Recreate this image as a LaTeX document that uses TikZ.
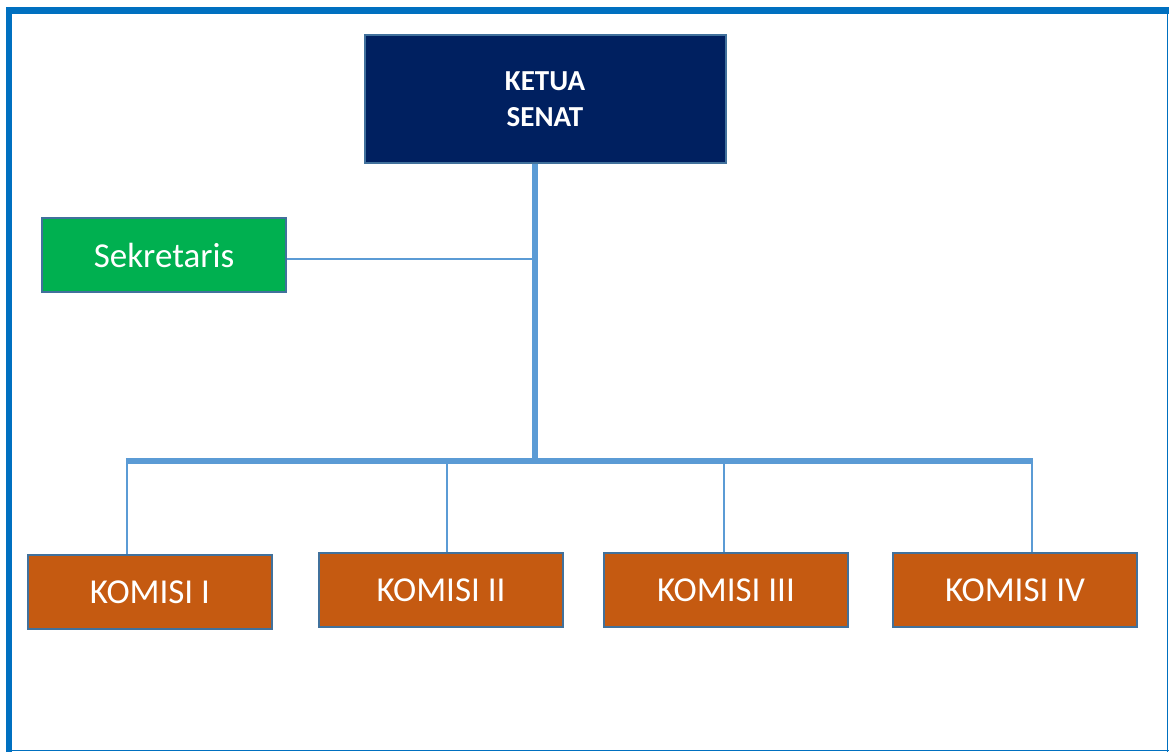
\documentclass[tikz,border=0pt]{standalone}
\usepackage{fontspec}
\setmainfont{Carlito}
\definecolor{navy}{HTML}{002060}
\definecolor{sekgreen}{HTML}{00B050}
\definecolor{komorange}{HTML}{C55A11}
\definecolor{boxborder}{HTML}{41719C}
\definecolor{linkblue}{HTML}{5B9BD5}
\definecolor{frameblue}{HTML}{0070C0}
\begin{document}
\begin{tikzpicture}[x=1pt,y=-1pt,
  orgbox/.style={draw=boxborder,line width=2pt,inner sep=0pt,text=white,align=center},
  komisi/.style={orgbox,fill=komorange,minimum width=244pt,minimum height=74pt,font=\fontsize{35}{40}\selectfont},
  thickline/.style={draw=linkblue,line width=5.5pt},
  thinline/.style={draw=linkblue,line width=2.5pt}]
\useasboundingbox (0,0) rectangle (1169,752);
% frame
\fill[white] (0,0) rectangle (1169,752);
\fill[frameblue] (6,7) rectangle (1169,14);
\fill[frameblue] (6,7) rectangle (12,752);
\draw[frameblue,line width=1.5pt] (1167.5,14) -- (1167.5,752);
\draw[frameblue,line width=1.5pt] (12,750.5) -- (1169,750.5);
% nodes
\node[orgbox,fill=navy,minimum width=361pt,minimum height=128pt,
  font=\fontsize{29}{36}\selectfont\bfseries] (ketua) at (545,99) {KETUA\\SENAT};
\node[orgbox,fill=sekgreen,minimum width=244pt,minimum height=74pt,
  font=\fontsize{35}{40}\selectfont] (sek) at (164,255) {Sekretaris};
\node[komisi] (k1) at (150,592) {KOMISI I};
\node[komisi] (k2) at (441,590) {KOMISI II};
\node[komisi] (k3) at (726,590) {KOMISI III};
\node[komisi] (k4) at (1015,590) {KOMISI IV};
% connectors
\coordinate (t) at (535,461);
\coordinate (sj) at (535,259);
\coordinate (b1) at (127,461);
\coordinate (b2) at (447,461);
\coordinate (b3) at (724,461);
\coordinate (b4) at (1032,461);
\draw[thinline] (sj) -- (sj -| sek.east);
\draw[thickline] (t |- ketua.south) -- (t);
\draw[thinline] (b1) -- (b1 |- k1.north);
\draw[thinline] (b2) -- (b2 |- k2.north);
\draw[thinline] (b3) -- (b3 |- k3.north);
\draw[thinline] (b4) -- (b4 |- k4.north);
\draw[thickline] ([xshift=-1.25pt]b1) -- ([xshift=1.25pt]b4);
\end{tikzpicture}
\end{document}
